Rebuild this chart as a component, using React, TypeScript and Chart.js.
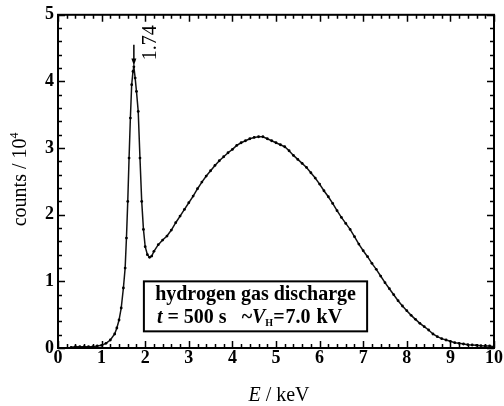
import { useEffect, useRef } from "react";
import { Chart, registerables } from "chart.js";

Chart.register(...registerables);

// Energy (keV) and counts (in units of 10^4)
const energyKeV = [
  0.3, 0.4, 0.5, 0.6, 0.7, 0.8, 0.9, 1.0, 1.1, 1.2, 1.3, 1.35, 1.4, 1.45, 1.5,
  1.54, 1.57, 1.6, 1.63, 1.66, 1.69, 1.72, 1.74, 1.77, 1.8, 1.84, 1.88, 1.92,
  1.96, 2.0, 2.05, 2.1, 2.15, 2.2, 2.3, 2.4, 2.5, 2.6, 2.7, 2.8, 2.9, 3.0, 3.1,
  3.2, 3.3, 3.4, 3.5, 3.6, 3.7, 3.8, 3.9, 4.0, 4.1, 4.2, 4.3, 4.4, 4.5, 4.6,
  4.7, 4.8, 4.9, 5.0, 5.1, 5.2, 5.3, 5.4, 5.5, 5.6, 5.7, 5.8, 5.9, 6.0, 6.1,
  6.2, 6.3, 6.4, 6.5, 6.6, 6.7, 6.8, 6.9, 7.0, 7.1, 7.2, 7.3, 7.4, 7.5, 7.6,
  7.7, 7.8, 7.9, 8.0, 8.1, 8.2, 8.3, 8.4, 8.5, 8.6, 8.7, 8.8, 8.9, 9.0, 9.1,
  9.2, 9.3, 9.4, 9.5, 9.6, 9.7, 9.8, 9.9, 10.0,
];
const countsE4 = [
  0.01, 0.02, 0.02, 0.02, 0.02, 0.02, 0.03, 0.04, 0.07, 0.12, 0.21, 0.3, 0.42,
  0.6, 0.9, 1.2, 1.65, 2.2, 2.85, 3.45, 3.95, 4.15, 4.22, 4.05, 3.85, 3.55,
  2.85, 2.2, 1.78, 1.52, 1.4, 1.36, 1.38, 1.45, 1.55, 1.62, 1.68, 1.77, 1.88,
  1.98, 2.08, 2.18, 2.28, 2.39, 2.49, 2.58, 2.66, 2.74, 2.81, 2.87, 2.93, 2.98,
  3.04, 3.08, 3.11, 3.14, 3.16, 3.17, 3.17, 3.14, 3.11, 3.08, 3.05, 3.02, 2.96,
  2.89, 2.83, 2.77, 2.71, 2.63, 2.55, 2.46, 2.36, 2.27, 2.17, 2.06, 1.96, 1.87,
  1.78, 1.67, 1.56, 1.46, 1.37, 1.27, 1.18, 1.08, 0.98, 0.89, 0.8, 0.71, 0.63,
  0.56, 0.49, 0.43, 0.37, 0.32, 0.27, 0.21, 0.17, 0.14, 0.12, 0.1, 0.08, 0.07,
  0.06, 0.05, 0.045, 0.04, 0.035, 0.03, 0.03, 0.02,
];
const xTickValues = [0, 1, 2, 3, 4, 5, 6, 7, 8, 9, 10];
const yTickValues = [0, 1, 2, 3, 4, 5];
const peakEnergy = 1.74;
const peakLabel = "1.74";
const boxLine1 = "hydrogen gas discharge";
const boxTime = "500 s";
const boxVoltage = "7.0";

const SERIF = "'Liberation Serif', 'Times New Roman', serif";

const framePlugin = {
  id: "frameAndNotes",
  afterDraw(chart: any) {
    const { ctx, chartArea: a, scales } = chart;
    const xs = scales.x;
    const ys = scales.y;
    ctx.save();
    ctx.strokeStyle = "#000";
    ctx.fillStyle = "#000";
    // frame
    ctx.lineWidth = 2;
    ctx.strokeRect(a.left, a.top, a.right - a.left, a.bottom - a.top);
    // ticks (major + minor, inward, all four sides)
    ctx.lineWidth = 1.5;
    ctx.beginPath();
    for (let i = 0; i <= 50; i++) {
      const px = Math.round(xs.getPixelForValue(i * 0.2)) + 0.5;
      const len = i % 5 === 0 ? 7 : 4;
      ctx.moveTo(px, a.bottom);
      ctx.lineTo(px, a.bottom - len);
      ctx.moveTo(px, a.top);
      ctx.lineTo(px, a.top + len);
    }
    for (let i = 0; i <= 25; i++) {
      const py = Math.round(ys.getPixelForValue(i * 0.2)) + 0.5;
      const len = i % 5 === 0 ? 7 : 4;
      ctx.moveTo(a.left, py);
      ctx.lineTo(a.left + len, py);
      ctx.moveTo(a.right, py);
      ctx.lineTo(a.right - len, py);
    }
    ctx.stroke();

    // peak arrow
    const ax = xs.getPixelForValue(peakEnergy);
    const aTop = ys.getPixelForValue(4.55);
    const aTip = ys.getPixelForValue(4.24);
    ctx.lineWidth = 1.5;
    ctx.beginPath();
    ctx.moveTo(ax, aTop);
    ctx.lineTo(ax, aTip - 5);
    ctx.stroke();
    ctx.beginPath();
    ctx.moveTo(ax - 2.5, aTip - 7);
    ctx.lineTo(ax + 2.5, aTip - 7);
    ctx.lineTo(ax, aTip);
    ctx.closePath();
    ctx.fill();

    // peak label, rotated
    ctx.save();
    ctx.translate(xs.getPixelForValue(2.13), ys.getPixelForValue(4.58));
    ctx.rotate(-Math.PI / 2);
    ctx.font = `20px ${SERIF}`;
    ctx.textAlign = "center";
    ctx.textBaseline = "middle";
    ctx.fillText(peakLabel, 0, 0);
    ctx.restore();

    // annotation box
    const bl = xs.getPixelForValue(1.97);
    const br = xs.getPixelForValue(7.09);
    const bt = ys.getPixelForValue(1.0);
    const bb = ys.getPixelForValue(0.25);
    ctx.fillStyle = "#fff";
    ctx.fillRect(bl, bt, br - bl, bb - bt);
    ctx.lineWidth = 2;
    ctx.strokeRect(bl, bt, br - bl, bb - bt);
    ctx.fillStyle = "#000";
    ctx.textBaseline = "alphabetic";
    ctx.textAlign = "center";
    ctx.font = `bold 20px ${SERIF}`;
    ctx.fillText(boxLine1, (bl + br) / 2, bt + 19);
    // second line with mixed styles
    ctx.textAlign = "left";
    const base2 = bt + 42;
    let cx = bl + 13;
    const put = (s: string, font: string, dy = 0, gap = 0) => {
      ctx.font = font;
      ctx.fillText(s, cx, base2 + dy);
      cx += ctx.measureText(s).width + gap;
    };
    put("t", `italic bold 20px ${SERIF}`);
    put(" = " + boxTime, `bold 20px ${SERIF}`);
    put("  ", `bold 20px ${SERIF}`, 0, 5);
    put("~", `bold 20px ${SERIF}`);
    put("V", `italic bold 20px ${SERIF}`);
    put("H", `bold 10px ${SERIF}`, 3);
    put("=", `bold 20px ${SERIF}`, 0, 1);
    put(boxVoltage, `bold 20px ${SERIF}`, 0, 1);
    put(" kV", `bold 20px ${SERIF}`);

    // axis titles
    ctx.textAlign = "left";
    ctx.font = `italic 20px ${SERIF}`;
    const eW = ctx.measureText("E").width;
    ctx.font = `20px ${SERIF}`;
    const restW = ctx.measureText(" / keV").width;
    const tx = (a.left + a.right) / 2 + 3 - (eW + restW) / 2;
    ctx.font = `italic 20px ${SERIF}`;
    ctx.fillText("E", tx, 401);
    ctx.font = `20px ${SERIF}`;
    ctx.fillText(" / keV", tx + eW, 401);

    ctx.save();
    ctx.translate(26, (a.top + a.bottom) / 2 - 2);
    ctx.rotate(-Math.PI / 2);
    ctx.font = `20px ${SERIF}`;
    const t1 = "counts / 10";
    const w1 = ctx.measureText(t1).width;
    ctx.font = `12px ${SERIF}`;
    const w2 = ctx.measureText("4").width;
    const start = -(w1 + w2) / 2;
    ctx.font = `20px ${SERIF}`;
    ctx.fillText(t1, start, 0);
    ctx.font = `12px ${SERIF}`;
    ctx.fillText("4", start + w1, -8);
    ctx.restore();

    ctx.restore();
  },
};

export default function App() {
  const canvasRef = useRef<HTMLCanvasElement | null>(null);

  useEffect(() => {
    document.body.style.margin = "0";
    const canvas = canvasRef.current;
    if (!canvas) return;
    const chart = new Chart(canvas, {
      type: "line",
      data: {
        datasets: [
          {
            data: energyKeV.map((e, i) => ({ x: e, y: countsE4[i] })),
            borderColor: "#111",
            borderWidth: 1.5,
            pointRadius: 1.4,
            pointBackgroundColor: "#000",
            pointBorderWidth: 0,
            tension: 0,
          },
        ],
      },
      options: {
        animation: false,
        responsive: false,
        events: [],
        layout: { padding: { top: 12, right: 10, left: 0, bottom: 0 } },
        plugins: { legend: { display: false }, tooltip: { enabled: false } },
        scales: {
          x: {
            type: "linear",
            min: 0,
            max: 10,
            afterFit: (s: any) => {
              s.height = 58;
            },
            afterBuildTicks: (s: any) => {
              s.ticks = xTickValues.map((v) => ({ value: v }));
            },
            grid: { display: false, drawTicks: false },
            border: { display: false },
            ticks: {
              padding: 0,
              color: "#000",
              font: { family: SERIF, size: 18, weight: "bold" },
              maxRotation: 0,
              autoSkip: false,
            },
          },
          y: {
            type: "linear",
            min: 0,
            max: 5,
            afterFit: (s: any) => {
              s.width = 58;
            },
            afterBuildTicks: (s: any) => {
              s.ticks = yTickValues.map((v) => ({ value: v }));
            },
            grid: { display: false, drawTicks: false },
            border: { display: false },
            ticks: {
              padding: 4,
              color: "#000",
              font: { family: SERIF, size: 18, weight: "bold" },
              autoSkip: false,
            },
          },
        },
      },
      plugins: [framePlugin],
    });
    return () => chart.destroy();
  }, []);

  return (
    <div style={{ width: 504, height: 406, background: "#fff" }}>
      <canvas ref={canvasRef} width={504} height={406} />
    </div>
  );
}
